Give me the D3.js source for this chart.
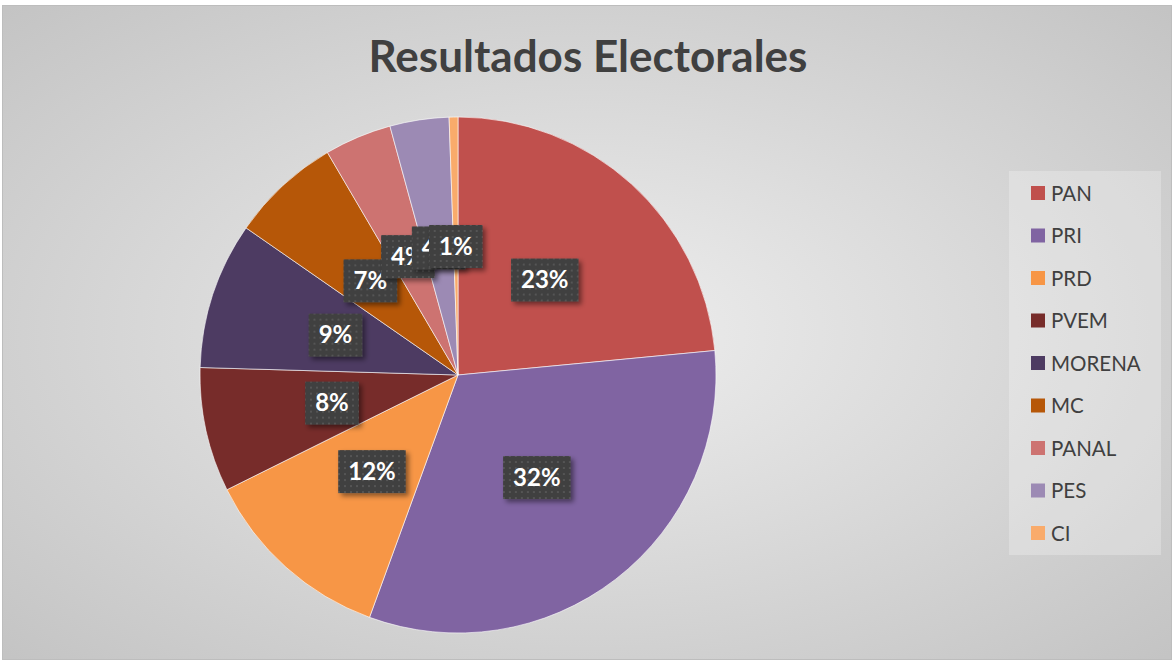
<!DOCTYPE html>
<html>
<head>
<meta charset="utf-8">
<script src="https://cdn.jsdelivr.net/npm/d3@7"></script>
<style>
  body { margin: 0; background: #fff; }
  svg { display: block; font-family: Lato, "Open Sans", sans-serif; }
</style>
</head>
<body>
<script>
// datos del grafico
let partidos = ["PAN", "PRI", "PRD", "PVEM", "MORENA", "MC", "PANAL", "PES", "CI"];
let votos = [23.5, 32.1, 12.1, 7.8, 9.2, 6.9, 4.2, 3.7, 0.55];
let colores = ["#c0504d", "#8064a2", "#f79646", "#772c2a", "#4d3b62", "#b65708", "#cd7371", "#9c8ab4", "#f9ab6b"];
let titulo = "Resultados Electorales";

function graficar() {
  let w = 1175;
  let h = 663;
  let svg = d3.select("body").append("svg").attr("width", w).attr("height", h);
  let defs = svg.append("defs");

  // fondo degradado
  let grad = defs.append("radialGradient").attr("id", "fondo")
    .attr("cx", "50%").attr("cy", "50%").attr("r", "70%");
  grad.append("stop").attr("offset", "0%").attr("stop-color", "#eeeeee");
  grad.append("stop").attr("offset", "100%").attr("stop-color", "#c4c4c4");

  // patron punteado de las etiquetas
  let pat = defs.append("pattern").attr("id", "puntos")
    .attr("width", 6).attr("height", 6).attr("patternUnits", "userSpaceOnUse");
  pat.append("rect").attr("width", 6).attr("height", 6).attr("fill", "#3f3f3f");
  pat.append("rect").attr("x", 2).attr("y", 2).attr("width", 2).attr("height", 2).attr("fill", "#555555");

  let sombra = defs.append("filter").attr("id", "sombra")
    .attr("x", "-20%").attr("y", "-20%").attr("width", "150%").attr("height", "160%");
  sombra.append("feDropShadow").attr("dx", 3).attr("dy", 3).attr("stdDeviation", 2.5)
    .attr("flood-color", "#000").attr("flood-opacity", 0.45);

  svg.append("rect").attr("x", 2.5).attr("y", 5.5).attr("width", 1169).attr("height", 654)
    .attr("fill", "url(#fondo)").attr("stroke", "#bdbdbd");

  svg.append("text").attr("x", 588).attr("y", 72).attr("text-anchor", "middle")
    .attr("font-size", 44).attr("font-weight", "bold").attr("fill", "#404040")
    .text(titulo);

  // pastel
  let cx = 458, cy = 375, r = 258;
  let datos = partidos.map((p, i) => ({ p: p, v: votos[i], c: colores[i] }));
  let pie = d3.pie().value(d => d.v).sort(null);
  let arco = d3.arc().innerRadius(0).outerRadius(r);
  let arcoEtq = d3.arc().innerRadius(r * 0.5).outerRadius(r * 0.5);
  let total = d3.sum(votos);
  let arcos = pie(datos);

  let g = svg.append("g").attr("transform", "translate(" + cx + "," + cy + ")");
  g.selectAll("path")
    .data(arcos)
    .enter()
    .append("path")
    .attr("d", arco)
    .attr("fill", d => d.data.c)
    .attr("stroke", "#ffffff")
    .attr("stroke-width", 0.6);

  // etiquetas con caja oscura
  let etq = g.selectAll("g.etq")
    .data(arcos)
    .enter()
    .append("g")
    .attr("class", "etq")
    .attr("transform", d => "translate(" + arcoEtq.centroid(d) + ")");

  etq.each(function (d) {
    let el = d3.select(this);
    let txt = Math.round(d.data.v / total * 100) + "%";
    let t = el.append("text").attr("text-anchor", "middle").attr("y", 8.5)
      .attr("font-size", 24).attr("font-weight", "bold").attr("fill", "#ffffff").text(txt);
    let bw = t.node().getComputedTextLength() + 20;
    el.insert("rect", "text")
      .attr("x", -bw / 2).attr("y", -21).attr("width", bw).attr("height", 43)
      .attr("fill", "url(#puntos)").attr("filter", "url(#sombra)");
  });

  // leyenda
  let lg = svg.append("g");
  lg.append("rect").attr("x", 1009).attr("y", 171).attr("width", 152).attr("height", 384)
    .attr("fill", "#ffffff").attr("fill-opacity", 0.25);
  let y = d3.scalePoint().domain(partidos).range([193, 533]);
  let item = lg.selectAll("g.item")
    .data(datos)
    .enter()
    .append("g")
    .attr("transform", d => "translate(1031," + y(d.p) + ")");
  item.append("rect").attr("x", 0).attr("y", -7).attr("width", 14).attr("height", 14)
    .attr("fill", d => d.c);
  item.append("text").attr("x", 20).attr("y", 7.5).attr("font-size", 20.5).attr("fill", "#404040")
    .text(d => d.p);
}

graficar();
</script>
</body>
</html>
